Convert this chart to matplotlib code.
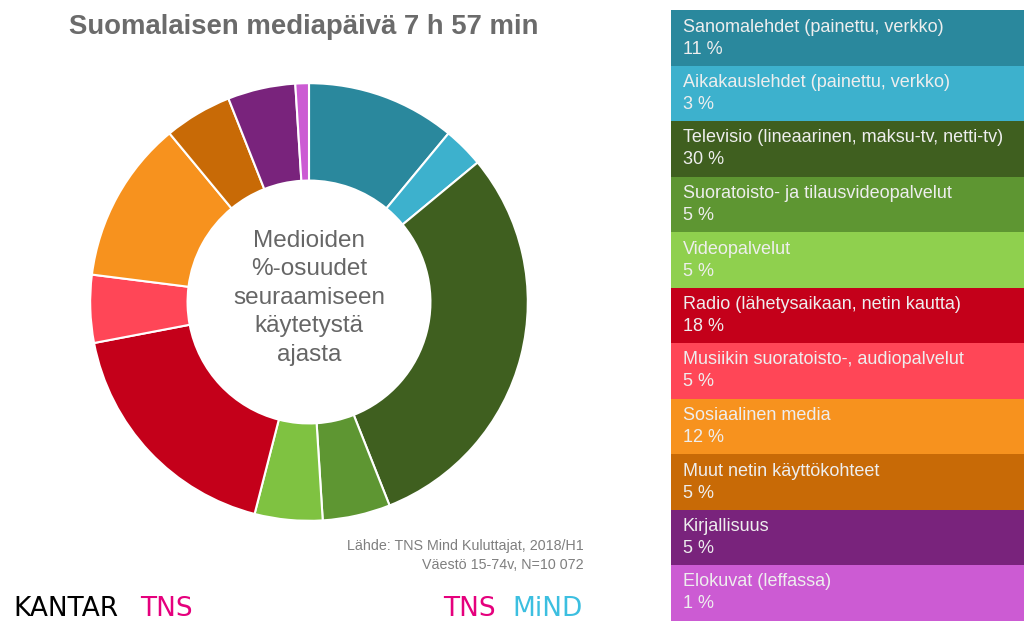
import matplotlib.pyplot as plt
from matplotlib.patches import Rectangle

plt.rcParams['font.family'] = ['Liberation Sans', 'DejaVu Sans']

# data
labels = ["Sanomalehdet (painettu, verkko)", "Aikakauslehdet (painettu, verkko)",
          "Televisio (lineaarinen, maksu-tv, netti-tv)", "Suoratoisto- ja tilausvideopalvelut",
          "Videopalvelut", "Radio (lähetysaikaan, netin kautta)",
          "Musiikin suoratoisto-, audiopalvelut", "Sosiaalinen media",
          "Muut netin käyttökohteet", "Kirjallisuus", "Elokuvat (leffassa)"]
shares = [11, 3, 30, 5, 5, 18, 5, 12, 5, 5, 1]
colors = ["#2a889d", "#3db1cd", "#3f5f1f", "#5e9632", "#7fc241", "#c4001a",
          "#ff4657", "#f7921e", "#c86a06", "#79237c", "#cc5bd3"]
legend_colors = colors[:4] + ["#8fd04e"] + colors[5:]

W, H = 1024, 623
fig = plt.figure(figsize=(W / 100, H / 100), dpi=100)

# donut
cx, cy, r = 309, 302, 221
ax = fig.add_axes([(cx - r) / W, (H - cy - r) / H, 2 * r / W, 2 * r / H])
ax.pie(shares, colors=colors, startangle=90, counterclock=False, radius=1,
       wedgeprops=dict(width=0.445, edgecolor="white", linewidth=1.5))
ax.set_xlim(-1.01, 1.01)
ax.set_ylim(-1.01, 1.01)
ax.set_aspect("equal")
ax.axis("off")
ax.text(0, 0.02, "Medioiden\n%-osuudet\nseuraamiseen\nkäytetystä\najasta", ha="center",
        va="center", fontsize=17.5, color="#666666", linespacing=1.38)

# overlay in pixel coordinates
ov = fig.add_axes([0, 0, 1, 1])
ov.set_xlim(0, W)
ov.set_ylim(H, 0)
ov.axis("off")
ov.set_zorder(-1)

ov.text(304, 27, "Suomalaisen mediapäivä 7 h 57 min", ha="center", va="center",
        fontsize=19.8, fontweight="bold", color="#6b6b6b")

box_x, box_top, box_h = 671, 10, 55.5
for i, (lab, val) in enumerate(zip(labels, shares)):
    y0 = box_top + i * box_h
    ov.add_patch(Rectangle((box_x, y0), W - box_x, box_h, facecolor=legend_colors[i],
                           edgecolor="none"))
    ov.text(683, y0 + 17, lab, ha="left", va="center", fontsize=13, color="#eeeeee")
    ov.text(683, y0 + 39, f"{val} %", ha="left", va="center", fontsize=13, color="#eeeeee")

ov.text(584, 546, "Lähde: TNS Mind Kuluttajat, 2018/H1", ha="right", va="center",
        fontsize=10.3, color="#7f7f7f")
ov.text(584, 565, "Väestö 15-74v, N=10 072", ha="right", va="center",
        fontsize=10.3, color="#7f7f7f")

# logos as text
logo = dict(va="center", fontsize=19, family="DejaVu Sans")
ov.text(13, 609, "KANTAR", ha="left", color="black", fontweight="medium", **logo)
ov.text(140, 609, "TNS", ha="left", color="#e5007d", **logo)
ov.text(443, 609, "TNS", ha="left", color="#e5007d", **logo)
ov.text(583, 609, "MiND", ha="right", color="#3cbfe0", **logo)

fig.savefig("out.png", dpi=100, facecolor="white")
